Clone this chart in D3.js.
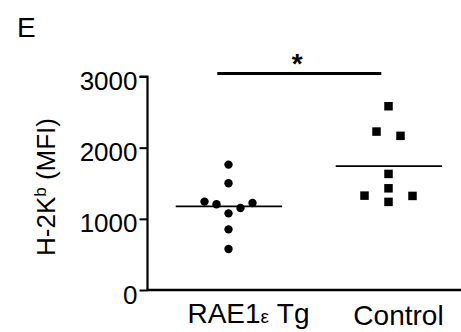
<!DOCTYPE html>
<html>
<head>
<meta charset="utf-8">
<script src="https://cdn.jsdelivr.net/npm/d3@7"></script>
<style>
  body { margin: 0; background: #fff; }
  text { font-family: "Liberation Sans", Arial, Helvetica, sans-serif; fill: #000; }
</style>
</head>
<body>
<script>
// groups and their values (H-2Kb MFI)
const categories = ["RAE1ε Tg", "Control"];
const tgValues = [1762, 1499, 1242, 1204, 1223, 1153, 1077, 852, 576];
const controlValues = [2582, 2226, 2166, 1631, 1429, 1326, 1322, 1238];
// horizontal scatter slots for overlapping points
const tgSlots = [0, 0, -2, -1, 2, 1, 0, 0, 0];
const controlSlots = [0, -1, 1, 0, 0, -2, 2, 0];
const yTicks = [0, 1000, 2000, 3000];
const sigText = "*";

const W = 461, H = 332;
const svg = d3.select("body").append("svg")
    .attr("width", W)
    .attr("height", H);

const plotLeft = 147.5, plotBottom = 290, plotTop = 76.5;

const y = d3.scaleLinear().domain([0, 3000]).range([plotBottom, plotTop]);
// category index -> pixel
const x = d3.scaleLinear().domain([0, 1]).range([228.5, 388.5]);
const slotW = 0.075; // one jitter slot, in category units

// y axis
const yAxis = svg.append("g")
    .attr("transform", `translate(${plotLeft},0)`)
    .call(d3.axisLeft(y).tickValues(yTicks).tickSize(8).tickPadding(2).tickFormat(d3.format("d")));
yAxis.select(".domain").attr("stroke-width", 2.2).attr("d", `M-8,${plotTop}H0V${plotBottom}`);
yAxis.selectAll(".tick line").attr("stroke-width", 2);
yAxis.selectAll(".tick text")
    .attr("font-size", 26)
    .attr("dy", "0.5em")
    .style("font-family", '"Liberation Sans", Arial, sans-serif');

// x axis line
svg.append("line")
    .attr("x1", plotLeft - 1).attr("x2", W)
    .attr("y1", plotBottom).attr("y2", plotBottom)
    .attr("stroke", "#000").attr("stroke-width", 2.4);

// x labels
const xl = svg.append("g");
const lab1 = xl.append("text")
    .attr("x", x(0) + 20).attr("y", 323)
    .attr("text-anchor", "middle").attr("font-size", 28);
lab1.append("tspan").text("RAE1");
lab1.append("tspan").attr("font-size", 19).text("ε");
lab1.append("tspan").text(" Tg");
xl.append("text")
    .attr("x", x(1) + 10).attr("y", 325)
    .attr("text-anchor", "middle").attr("font-size", 28)
    .text(categories[1]);

// y title
const yt = svg.append("text")
    .attr("transform", `translate(55,187) rotate(-90)`)
    .attr("text-anchor", "middle").attr("font-size", 26);
yt.append("tspan").text("H-2K");
yt.append("tspan").attr("font-size", 17).attr("dy", -9).text("b");
yt.append("tspan").attr("dy", 9).text(" (MFI)");

// panel letter
svg.append("text").attr("x", 17).attr("y", 37).attr("font-size", 28).text("E");

// points
svg.append("g").selectAll("circle")
    .data(tgValues)
    .join("circle")
    .attr("cx", (d, i) => x(0 + tgSlots[i] * slotW))
    .attr("cy", d => y(d))
    .attr("r", 4.2)
    .attr("fill", "#000");

const sq = 8.5;
svg.append("g").selectAll("rect")
    .data(controlValues)
    .join("rect")
    .attr("x", (d, i) => x(1 + controlSlots[i] * slotW) - sq / 2)
    .attr("y", d => y(d) - sq / 2)
    .attr("width", sq).attr("height", sq)
    .attr("fill", "#000");

// mean lines
const means = [d3.mean(tgValues), d3.mean(controlValues)];
svg.append("g").selectAll("line")
    .data(means)
    .join("line")
    .attr("x1", (d, i) => x(i - 0.33))
    .attr("x2", (d, i) => x(i + 0.335))
    .attr("y1", d => y(d)).attr("y2", d => y(d))
    .attr("stroke", "#000").attr("stroke-width", 1.8);

// significance bar
svg.append("line")
    .attr("x1", x(-0.07)).attr("x2", x(0.955))
    .attr("y1", 73.5).attr("y2", 73.5)
    .attr("stroke", "#000").attr("stroke-width", 3.2);
svg.append("text")
    .attr("x", x(0.43)).attr("y", 73)
    .attr("text-anchor", "middle").attr("font-size", 28).attr("font-weight", "bold")
    .text(sigText);
</script>
</body>
</html>
